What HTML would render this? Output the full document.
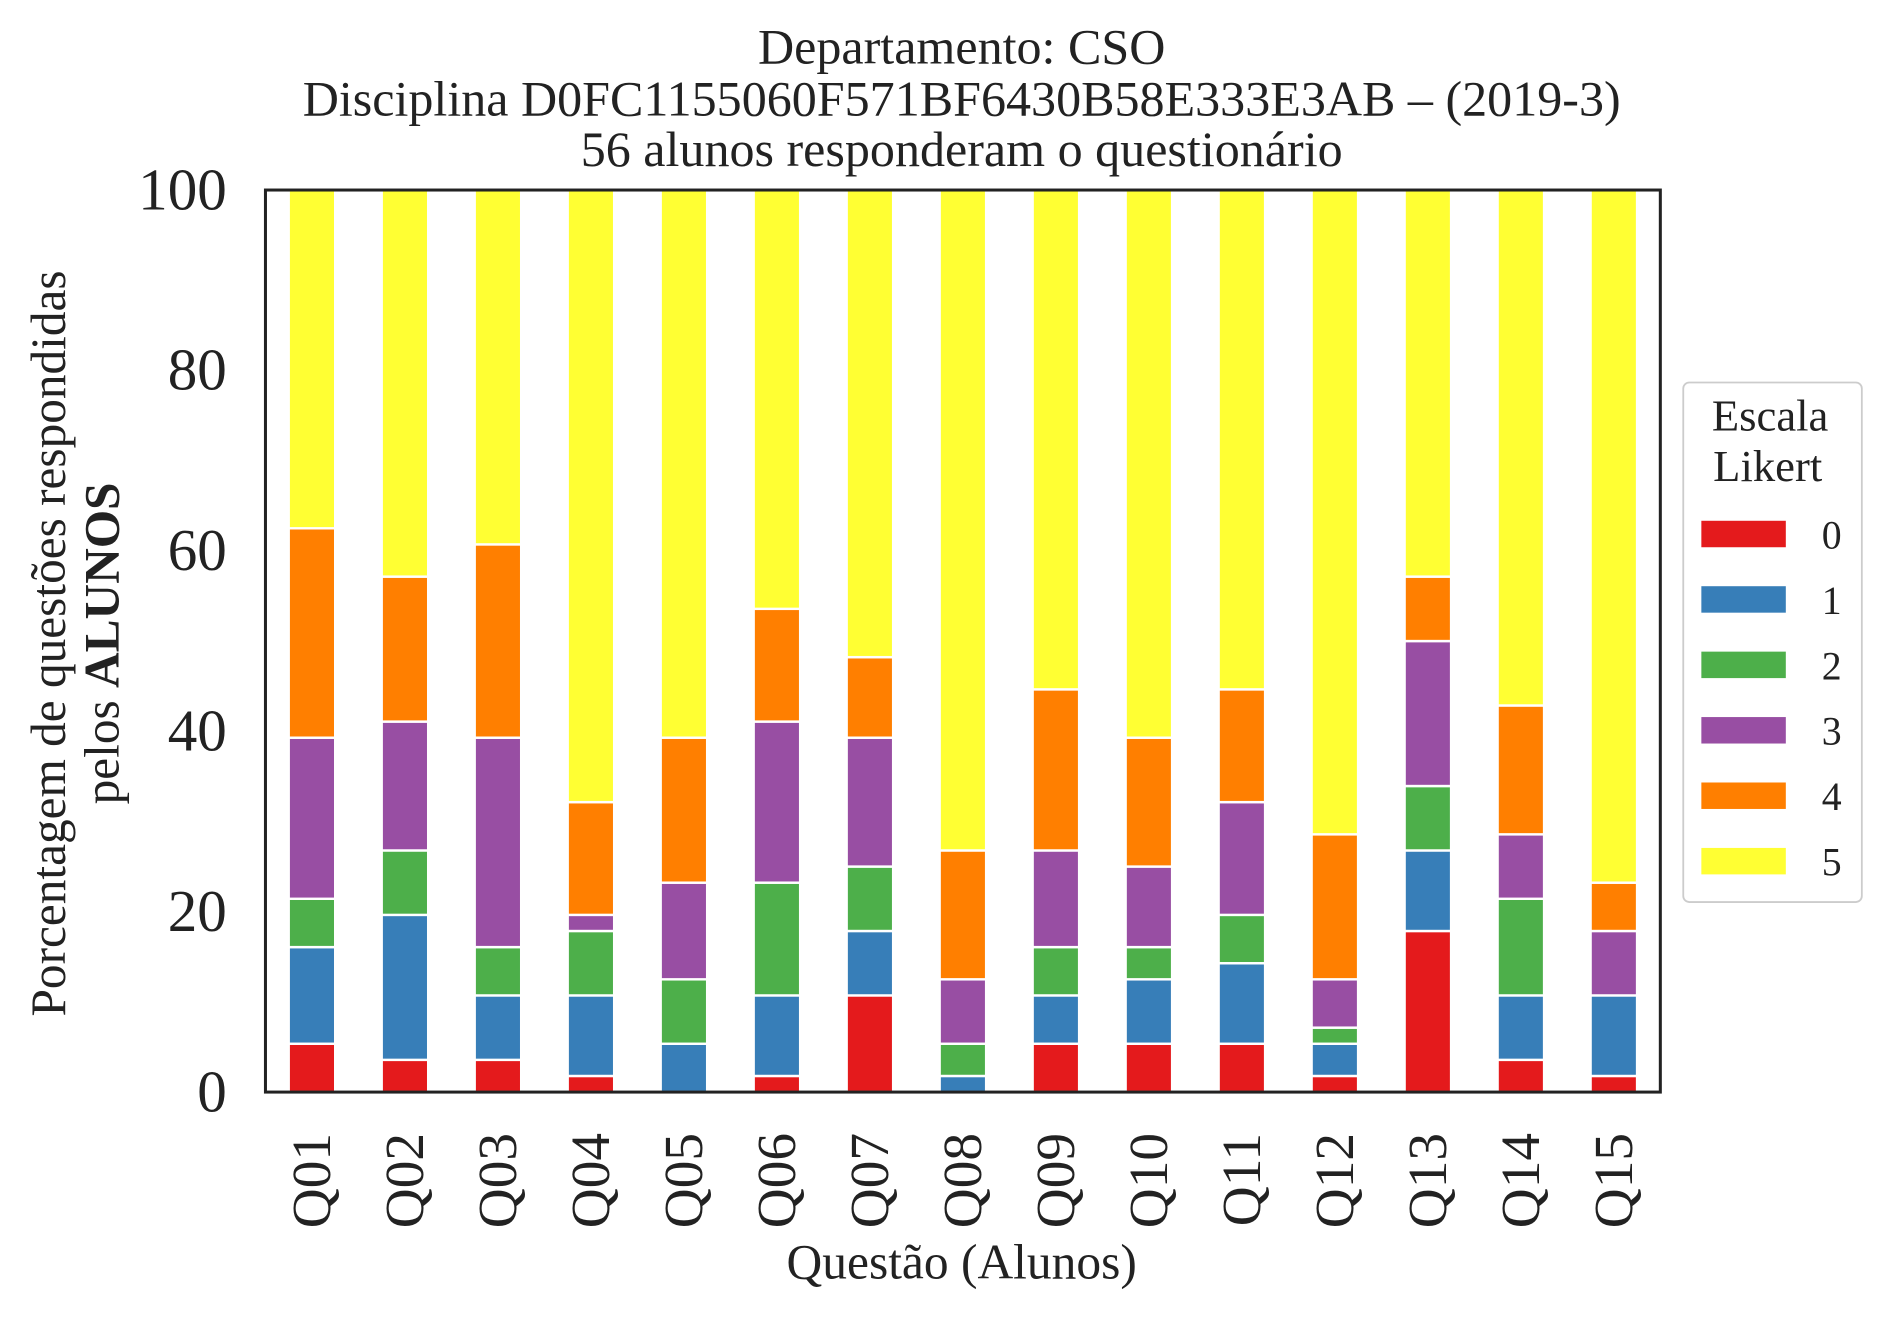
<!DOCTYPE html>
<html><head><meta charset="utf-8"><style>
html,body{margin:0;padding:0;background:#fff}
svg{display:block;font-family:"Liberation Serif",serif}
</style></head><body>
<svg id="chart" width="1892" height="1323" viewBox="0 0 1568 1100" preserveAspectRatio="none" xmlns="http://www.w3.org/2000/svg">
<g font-size="41.5" text-anchor="middle" fill="#222">
<text x="797" y="53">Departamento: CSO</text>
<text x="797" y="96">Disciplina D0FC1155060F571BF6430B58E333E3AB – (2019-3)</text>
<text x="797" y="138">56 alunos responderam o questionário</text>
</g>
<g id="bars"></g>
<rect x="220" y="158" width="1156" height="750" fill="none" stroke="#222" stroke-width="2.5"/>
<g id="yticks" font-size="49" text-anchor="end" fill="#222"></g>
<g id="xticks" font-size="46" fill="#222"></g>
<text x="797" y="1063" font-size="41" text-anchor="middle" fill="#222">Questão (Alunos)</text>
<g font-size="41" text-anchor="middle" fill="#222">
<text transform="translate(54,535) rotate(-90)">Porcentagem de questões respondidas</text>
<text transform="translate(98,535) rotate(-90)">pelos <tspan font-weight="bold">ALUNOS</tspan></text>
</g>
<g id="legend">
<rect x="1395" y="318" width="148" height="432" rx="5" fill="#fff" stroke="#ccc" stroke-width="1.5"/>
<text x="1467" y="358" font-size="37" text-anchor="middle" fill="#222">Escala</text>
<text x="1465" y="400" font-size="37" text-anchor="middle" fill="#222">Likert</text>
</g>
</svg>
<script>
const categories=["Q01","Q02","Q03","Q04","Q05","Q06","Q07","Q08","Q09","Q10","Q11","Q12","Q13","Q14","Q15"];
const levels=["0","1","2","3","4","5"];
const total=56;
const s0=[3,2,2,1,0,1,6,0,3,3,3,1,10,2,1];
const s1=[6,9,4,5,3,5,4,1,3,4,5,2,5,4,5];
const s2=[3,4,3,4,4,7,4,2,3,2,3,1,4,6,0];
const s3=[10,8,13,1,6,10,8,4,6,5,7,3,9,4,4];
const s4=[13,9,12,7,9,7,5,8,10,8,7,9,4,8,3];
const s5=[21,24,22,38,34,26,29,41,31,34,31,40,24,32,43];
const yTicks=[0,20,40,60,80,100];
const colors=["#e41a1c","#377eb8","#4daf4a","#984ea3","#ff7f00","#ffff33"];
const series=[s0,s1,s2,s3,s4,s5];
const NS="http://www.w3.org/2000/svg";
const X0=220,W=1156,Y0=908,H=750;
const bw=W/categories.length;
const xScale=i=>X0+bw*(i+0.5);
const yScale=v=>Y0-v/100*H;
const bars=document.getElementById('bars');
categories.forEach((c,i)=>{
  let cum=0;
  series.forEach((s,k)=>{
    const v=s[i]/total*100;
    if(v>0){
      const r=document.createElementNS(NS,'rect');
      
      
      r.setAttribute('x',xScale(i)-bw*0.25);
      r.setAttribute('width',bw*0.5);
      r.setAttribute('y',yScale(cum+v));
      r.setAttribute('height',yScale(cum)-yScale(cum+v));
      r.setAttribute('fill',colors[k]);
      r.setAttribute('stroke','#fff');
      r.setAttribute('stroke-width','2');
      bars.appendChild(r);
    }
    cum+=v;
  });
});
const yt=document.getElementById('yticks');
yTicks.forEach(t=>{
  const e=document.createElementNS(NS,'text');
  
  
  e.setAttribute('x',188);e.setAttribute('y',yScale(t)+16);
  e.textContent=t;yt.appendChild(e);
});
const xt=document.getElementById('xticks');
categories.forEach((c,i)=>{
  const e=document.createElementNS(NS,'text');
  
  
  e.setAttribute('text-anchor','end');
  e.setAttribute('transform','translate('+(xScale(i)+15)+',942) rotate(-90)');
  e.textContent=c;xt.appendChild(e);
});
const lg=document.getElementById('legend');
levels.forEach((l,k)=>{
  const cy=444+k*54.4;
  const r=document.createElementNS(NS,'rect');
  
  
  r.setAttribute('x',1410);r.setAttribute('y',cy-11);r.setAttribute('width',70);r.setAttribute('height',22);
  r.setAttribute('fill',colors[k]);lg.appendChild(r);
  const t=document.createElementNS(NS,'text');
  
  
  t.setAttribute('x',1518);t.setAttribute('y',cy+12);t.setAttribute('font-size','33');
  t.setAttribute('text-anchor','middle');t.setAttribute('fill','#222');
  t.textContent=l;lg.appendChild(t);
});
</script>
</body></html>
